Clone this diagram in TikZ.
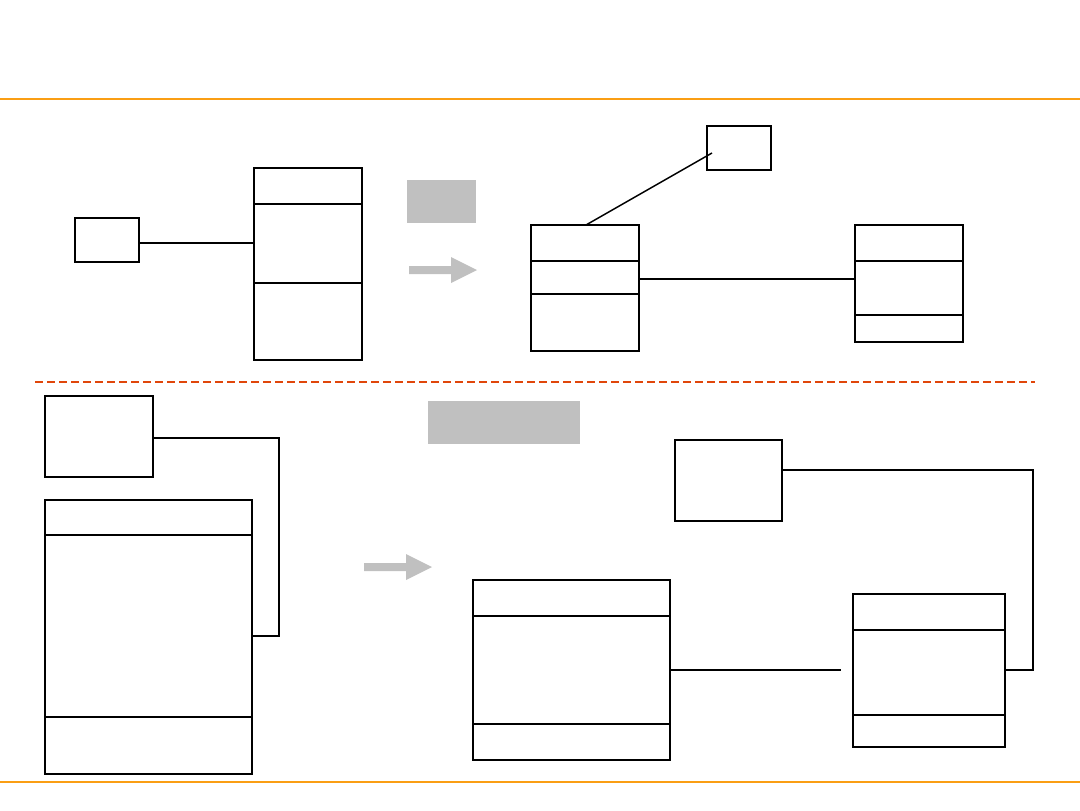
\documentclass[tikz,border=0pt]{standalone}
\usetikzlibrary{fit}
\definecolor{rule}{RGB}{250,158,20}
\definecolor{dashc}{RGB}{224,70,10}
\definecolor{softgray}{RGB}{192,192,192}
\tikzset{
  box/.style={draw=black, inner sep=0pt, outer sep=0pt, line width=1.1pt},
  thickbox/.style={box, line width=1.7pt},
  divider/.style={draw=black, line width=1.1pt},
  thickdiv/.style={draw=black, line width=1.6pt},
  link/.style={draw=black, line width=1.1pt},
  thicklink/.style={draw=black, line width=1.9pt},
  graybox/.style={fill=softgray, draw=none, inner sep=0pt, outer sep=0pt},
  grayarrow/.style={fill=softgray, draw=none},
}
\begin{document}
\begin{tikzpicture}[x=0.75pt, y=-0.75pt]
\useasboundingbox (0,0) rectangle (1080,810);
% rules
\draw[rule, line width=1.6pt] (0,99) -- (1080,99);
\draw[rule, line width=1.6pt] (0,782) -- (1080,782);
\draw[dashc, line width=0.9pt, dash pattern=on 6pt off 3pt] (35,382) -- (1035,382);

% ---------- top left ----------
\node[box, fit={(75,218) (139,262)}] (a1) {};
\node[box, fit={(254,168) (362,360)}] (c1) {};
\draw[divider] (254,204) -- (362,204);
\draw[divider] (254,283) -- (362,283);
\draw[thicklink] (a1.east |- 0,243) -- (c1.west |- 0,243);

% gray label and arrow (top)
\node[graybox, fit={(407,180) (476,223)}] (g1) {};
\fill[grayarrow] (409,266) -- (451,266) -- (451,257) -- (477,270) -- (451,283) -- (451,274) -- (409,274) -- cycle;

% ---------- top right ----------
\node[box, fit={(707,126) (771,170)}] (a2) {};
\node[thickbox, fit={(531,225) (639,351)}] (c2) {};
\draw[thickdiv] (531,261) -- (639,261);
\draw[divider] (531,294) -- (639,294);
\node[thickbox, fit={(855,225) (963,342)}] (c3) {};
\draw[thickdiv] (855,261) -- (963,261);
\draw[thickdiv] (855,315) -- (963,315);
\coordinate (a2in) at (712,153);
\draw[link] (586,225) coordinate (c2top) -- (a2in);
\draw[thicklink] (c2.east |- 0,279) -- (c3.west |- 0,279);

% ---------- bottom left ----------
\node[thickbox, fit={(45,396) (153,477)}] (a3) {};
\node[thickbox, fit={(45,500) (252,774)}] (c4) {};
\draw[divider] (45,535) -- (252,535);
\draw[divider] (45,717) -- (252,717);
\draw[link] (a3.east |- 0,438) -| (279,636) -- (c4.east |- 0,636);

% gray label and arrow (bottom)
\node[graybox, fit={(428,401) (580,444)}] (g2) {};
\fill[grayarrow] (364,563) -- (406,563) -- (406,554) -- (432,567) -- (406,580) -- (406,571) -- (364,571) -- cycle;

% ---------- bottom right ----------
\node[box, fit={(675,440) (782,521)}] (a4) {};
\node[box, fit={(473,580) (670,760)}] (c5) {};
\draw[divider] (473,616) -- (670,616);
\draw[divider] (473,724) -- (670,724);
\node[box, fit={(853,594) (1005,747)}] (c6) {};
\draw[divider] (853,630) -- (1005,630);
\draw[divider] (853,715) -- (1005,715);
\draw[thickdiv] (853,747) -- (1005,747);
\coordinate (c5end) at (841,670);
\draw[link] (c5.east |- 0,670) -- (c5end);
\draw[thicklink] (a4.east |- 0,470) -| (1033,670) -- (c6.east |- 0,670);
\end{tikzpicture}
\end{document}
